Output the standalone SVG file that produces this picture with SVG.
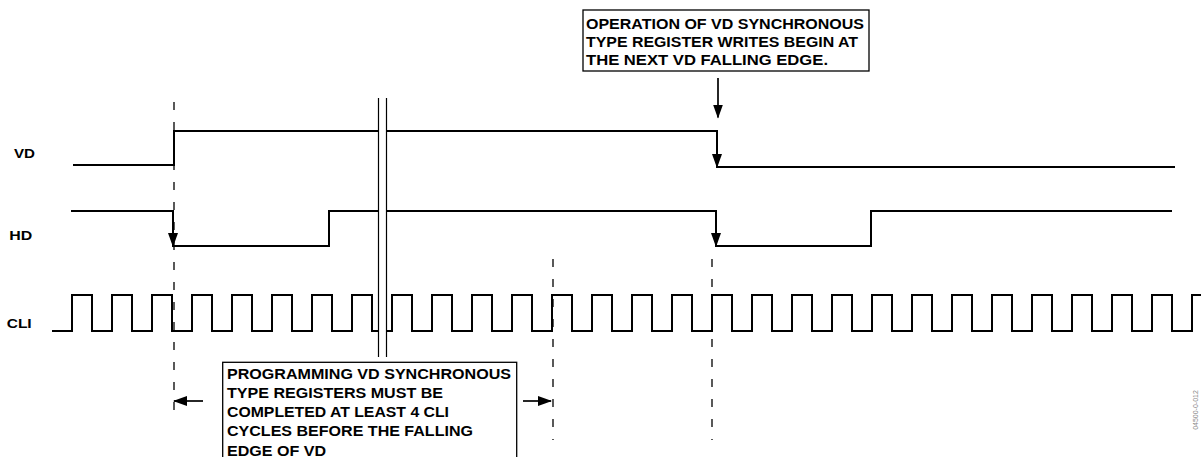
<svg xmlns="http://www.w3.org/2000/svg" width="1201" height="457" viewBox="0 0 1201 457">
<style>
.wave{fill:none;stroke:#000;stroke-width:2;stroke-linejoin:miter}
.dash{fill:none;stroke:#000;stroke-width:1.3;stroke-dasharray:8 12}
.arr{fill:none;stroke:#000;stroke-width:1.7;marker-end:url(#ah)}
.box{fill:#fff;stroke:#000;stroke-width:1.3}
.t{font-family:"Liberation Sans",Arial,sans-serif;font-weight:bold;font-size:14px;fill:#000}
.lbl{font-family:"Liberation Sans",Arial,sans-serif;font-weight:bold;font-size:13px;fill:#000}
.brk{fill:#fff;stroke:none}
.brkl{stroke:#000;stroke-width:1.2}
</style>
<defs>
<marker id="ah" viewBox="0 0 14 10" refX="13" refY="5" markerWidth="14" markerHeight="10" markerUnits="userSpaceOnUse" orient="auto">
<path d="M0,0 L14,5 L0,10 z" fill="#000"/>
</marker>
</defs>
<rect width="1201" height="457" fill="#fff"/>
<g id="labels">
<text class="lbl" x="14" y="158.3" textLength="21" lengthAdjust="spacingAndGlyphs">VD</text>
<text class="lbl" x="9.3" y="240" textLength="23" lengthAdjust="spacingAndGlyphs">HD</text>
<text class="lbl" x="6.7" y="328.3" textLength="25" lengthAdjust="spacingAndGlyphs">CLI</text>
</g>
<g id="guides">
<line class="dash" x1="174" y1="102" x2="174" y2="422"/>
<line class="dash" x1="553" y1="259" x2="553" y2="440"/>
<line class="dash" x1="712" y1="259" x2="712" y2="440"/>
</g>
<g id="vd">
<path class="wave" d="M73,165 H174 V131 H717 V167 H1175"/>
</g>
<g id="hd">
<path class="wave" d="M71,211 H173 V246 H329 V211 H716 V246 H871 V211 H1172"/>
</g>
<g id="cli">
<path class="wave" d="M52,331 H72 V295 H92 V331 H112 V295 H132 V331 H152 V295 H172 V331 H192 V295 H212 V331 H232 V295 H252 V331 H272 V295 H292 V331 H312 V295 H332 V331 H352 V295 H372 V331 H392 V295 H412 V331 H432 V295 H452 V331 H472 V295 H492 V331 H512 V295 H532 V331 H552 V295 H572 V331 H592 V295 H612 V331 H632 V295 H652 V331 H672 V295 H692 V331 H712 V295 H732 V331 H752 V295 H772 V331 H792 V295 H812 V331 H832 V295 H852 V331 H872 V295 H892 V331 H912 V295 H932 V331 H952 V295 H972 V331 H992 V295 H1012 V331 H1032 V295 H1052 V331 H1072 V295 H1092 V331 H1112 V295 H1132 V331 H1152 V295 H1172 V331 H1192 V295 H1202"/>
</g>
<g id="break">
<rect class="brk" x="378.5" y="98" width="8" height="259"/>
<line class="brkl" x1="378.5" y1="98" x2="378.5" y2="357"/>
<line class="brkl" x1="386.5" y1="98" x2="386.5" y2="357"/>
</g>
<g id="note-top">
<rect class="box" x="583" y="10" width="286" height="61"/>
<text class="t" x="586" y="29.3" textLength="278" lengthAdjust="spacingAndGlyphs">OPERATION OF VD SYNCHRONOUS</text>
<text class="t" x="586" y="46.8" textLength="272" lengthAdjust="spacingAndGlyphs">TYPE REGISTER WRITES BEGIN AT</text>
<text class="t" x="586" y="65" textLength="242" lengthAdjust="spacingAndGlyphs">THE NEXT VD FALLING EDGE.</text>
</g>
<g id="note-bottom">
<rect class="box" x="222.7" y="362.3" width="294" height="100"/>
<text class="t" x="227" y="379" textLength="284" lengthAdjust="spacingAndGlyphs">PROGRAMMING VD SYNCHRONOUS</text>
<text class="t" x="227" y="398.3" textLength="216" lengthAdjust="spacingAndGlyphs">TYPE REGISTERS MUST BE</text>
<text class="t" x="227" y="417.3" textLength="222" lengthAdjust="spacingAndGlyphs">COMPLETED AT LEAST 4 CLI</text>
<text class="t" x="227" y="436.3" textLength="246" lengthAdjust="spacingAndGlyphs">CYCLES BEFORE THE FALLING</text>
<text class="t" x="227" y="455.5" textLength="99" lengthAdjust="spacingAndGlyphs">EDGE OF VD</text>
</g>
<g id="connectors">
<line class="arr" x1="718" y1="78" x2="718" y2="117.5"/>
<line class="arr" x1="717" y1="150" x2="717" y2="167"/>
<line class="arr" x1="716" y1="229" x2="716" y2="246"/>
<line class="arr" x1="173" y1="229" x2="173" y2="246"/>
<line class="arr" x1="203" y1="401" x2="174" y2="401"/>
<line class="arr" x1="523" y1="401" x2="551" y2="401"/>
</g>
<text x="1198" y="410" transform="rotate(-90 1198 410)" text-anchor="middle" font-family="'Liberation Sans',Arial,sans-serif" font-size="7" fill="#888">04500-0-012</text>
</svg>
